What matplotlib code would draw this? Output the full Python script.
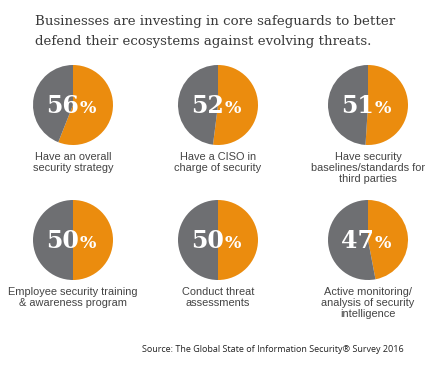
import matplotlib.pyplot as plt

W, H = 441, 391

title_lines = ["Businesses are investing in core safeguards to better",
               "defend their ecosystems against evolving threats."]
percents = [56, 52, 51, 50, 50, 47]
labels = ["Have an overall\nsecurity strategy",
          "Have a CISO in\ncharge of security",
          "Have security\nbaselines/standards for\nthird parties",
          "Employee security training\n& awareness program",
          "Conduct threat\nassessments",
          "Active monitoring/\nanalysis of security\nintelligence"]
source = "Source: The Global State of Information Security\u00ae Survey 2016"

orange = "#EB8C0E"
grey = "#6E6F72"

# pie centres in pixels
cx = [73, 218, 368]
cy = [105, 240]
r = 40

fig = plt.figure(figsize=(W / 100, H / 100), dpi=100)
fig.patch.set_facecolor("white")

for i, line in enumerate(title_lines):
    fig.text(35 / W, 1 - (22 + 20 * i) / H, line, family="DejaVu Serif",
             fontsize=9.6, color="#3a3a3a", va="center", ha="left")

for i, p in enumerate(percents):
    x = cx[i % 3]
    y = cy[i // 3]
    ax = fig.add_axes([(x - r) / W, 1 - (y + r) / H, 2 * r / W, 2 * r / H])
    ax.pie([p, 100 - p], colors=[orange, grey], startangle=90,
           counterclock=False, radius=1.0,
           wedgeprops=dict(linewidth=0))
    ax.set_xlim(-1, 1)
    ax.set_ylim(-1, 1)
    ax.set_aspect("equal")
    ax.axis("off")
    ax.text(0.14, -0.2, f"{p}", fontsize=17, fontweight="bold", family="DejaVu Serif",
            color="white", ha="right", va="baseline")
    ax.text(0.16, -0.2, "%", fontsize=12.5, fontweight="bold", family="DejaVu Serif",
            color="white", ha="left", va="baseline")
    fig.text(x / W, 1 - (y + r + 7) / H, labels[i], family="Liberation Sans",
             fontsize=7.9, color="#444444", ha="center", va="top", linespacing=1.15)

fig.text(142 / W, 1 - 350 / H, source, family="Open Sans", fontsize=6.5,
         color="#222222", ha="left", va="center")

fig.savefig("out.png", dpi=100)
